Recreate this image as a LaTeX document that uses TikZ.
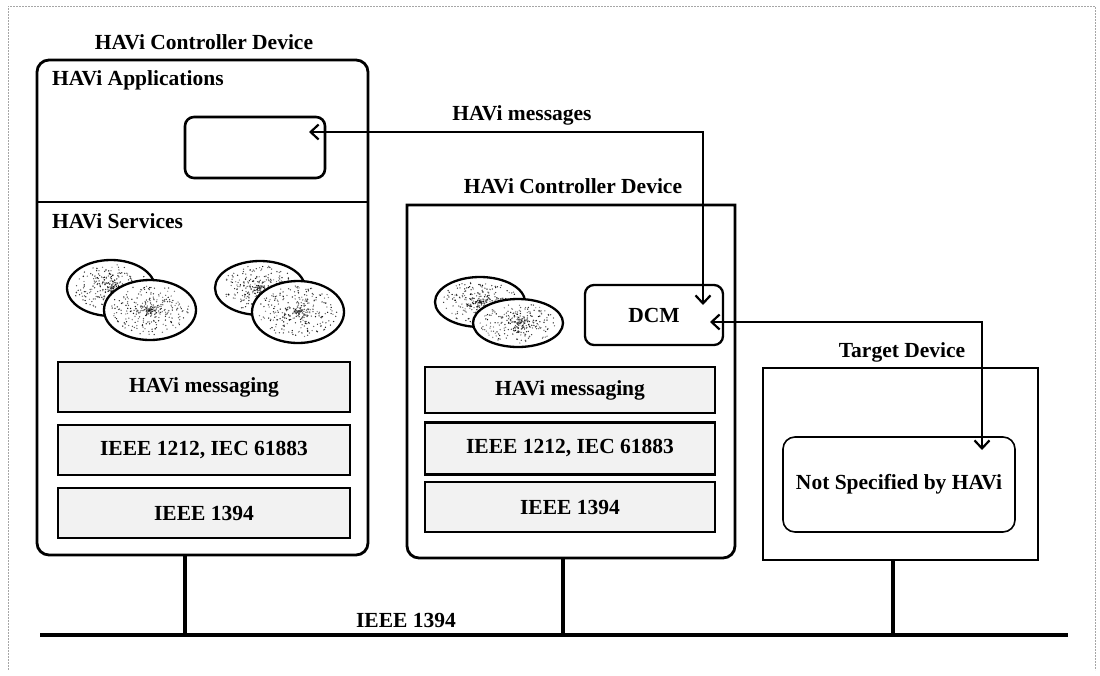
\documentclass[tikz,border=0pt]{standalone}
\usepackage{fontspec}
\setmainfont{Liberation Serif}
\usetikzlibrary{arrows.meta,shapes.geometric}

% random speckles inside an ellipse: centre x, centre y, x radius, y radius, count
\newcommand\specklecloud[5]{%
  \begin{scope}
    \clip (#1,#2) ellipse [x radius=#3pt, y radius=#4pt];
    \foreach \k in {1,...,#5}{%
      \pgfmathsetmacro\rr{rnd*0.85}%
      \pgfmathsetmacro\aa{360*rnd}%
      \pgfmathsetmacro\gg{45+55*rnd}%
      \fill[black!\gg] ({#1+#3*\rr*cos(\aa)},{#2+#4*\rr*sin(\aa)}) circle[radius=0.7pt];
    }%
  \end{scope}}

\tikzset{
  lbl/.style={font=\bfseries\fontsize{21.5}{25}\selectfont, inner sep=0pt},
  devbox/.style={draw, line width=2.8pt, inner sep=0pt, outer sep=0pt},
  layer/.style={draw, line width=2.8pt, fill=black!5, inner sep=0pt, outer sep=0pt,
                minimum height=50pt, lbl},
  appbox/.style={draw, line width=2.6pt, rounded corners=9pt, inner sep=0pt, outer sep=0pt},
  blob/.style={draw, line width=2.3pt, fill=white, ellipse, inner sep=0pt},
  msg/.style={line width=2.2pt, {Straight Barb[length=8pt,width=15pt]}-{Straight Barb[length=8pt,width=15pt]}},
  wire/.style={line width=3.2pt},
}

\begin{document}
\begin{tikzpicture}[x=1pt,y=-1pt]
\useasboundingbox (0,0) rectangle (1100,675);
\pgfmathsetseed{4711}

% faint page frame
\draw[black!35, line width=0.8pt, dash pattern=on 2pt off 1pt] (8,670) -- (8,6) -- (1095,6) -- (1095,670);

% ---------------- left controller device ----------------
\node[lbl] (t1) at (204,42) {HAVi Controller Device};
\node[devbox, rounded corners=12pt, minimum width=331pt, minimum height=495pt] (dev1) at (202.5,307.5) {};
\draw[line width=2.8pt] (dev1.west |- 0,202) -- (dev1.east |- 0,202);
\node[lbl, anchor=west] (apps) at (52,80) {HAVi Applications};
\node[lbl, anchor=west] (svcs) at (52,221) {HAVi Services};
\node[appbox, minimum width=140pt, minimum height=61pt] (app) at (255,147.5) {};

\node[blob, minimum width=88pt, minimum height=56pt] (s1) at (111,288) {};
\specklecloud{111}{288}{44}{28}{300}
\node[blob, minimum width=92pt, minimum height=60pt] (s2) at (150,310) {};
\specklecloud{150}{310}{46}{30}{320}
\node[blob, minimum width=90pt, minimum height=54pt] (s3) at (260,288) {};
\specklecloud{260}{288}{45}{27}{300}
\node[blob, minimum width=92pt, minimum height=62pt] (s4) at (298,312) {};
\specklecloud{298}{312}{46}{31}{320}

\node[layer, minimum width=292pt] (m1) at (204,387) {HAVi messaging};
\node[layer, minimum width=292pt] (r1) at (204,450) {IEEE 1212, IEC 61883};
\node[layer, minimum width=292pt] (p1) at (204,513) {IEEE 1394};

% ---------------- middle controller device ----------------
\node[lbl] (t2) at (573,186) {HAVi Controller Device};
\node[inner sep=0pt, outer sep=0pt, minimum width=328pt, minimum height=353pt] (dev2) at (571,381.5) {};
\draw[line width=2.8pt] (dev2.north) -- (dev2.north west)
  [rounded corners=12pt] -- (dev2.south west) -- (dev2.south east)
  [sharp corners] -- (dev2.north east) -- cycle;

\node[blob, minimum width=90pt, minimum height=50pt] (s5) at (480,302) {};
\specklecloud{480}{302}{45}{25}{280}
\node[blob, minimum width=90pt, minimum height=48pt] (s6) at (518,323) {};
\specklecloud{518}{323}{45}{24}{280}
\node[appbox, line width=2.3pt, minimum width=138pt, minimum height=60pt, lbl] (dcm) at (654,315) {DCM};

\node[layer, minimum width=290pt, minimum height=46pt] (m2) at (570,390) {HAVi messaging};
\node[layer, minimum width=290pt, minimum height=52pt] (r2) at (570,448.5) {IEEE 1212, IEC 61883};
\node[layer, minimum width=290pt] (p2) at (570,507) {IEEE 1394};

% ---------------- target device ----------------
\node[lbl] (t3) at (902,352) {Target Device};
\node[devbox, minimum width=275pt, minimum height=192pt] (dev3) at (900.5,464) {};
\node[appbox, line width=1.6pt, rounded corners=12pt, minimum width=232pt, minimum height=95pt, lbl] (nsp) at (899,484.5) {Not Specified by HAVi};

% ---------------- HAVi message paths ----------------
\coordinate (appin) at (309,132);
\coordinate (dcmtop) at (703,305);
\coordinate (dcmin) at (710,322);
\coordinate (nspin) at (982,450);
\node[lbl, anchor=south] (msgs) at (522,125) {HAVi messages};
\draw[msg] (appin) -| (dcmtop);
\draw[msg] (dcmin) -| (nspin);

% ---------------- IEEE 1394 bus ----------------
\coordinate (busL) at (40,635);
\coordinate (busR) at (1068,635);
\draw[line width=3.8pt] (busL) -- (busR);
\node[lbl, anchor=south] (bus) at (406,628) {IEEE 1394};
\coordinate (tap1) at (185,635);
\coordinate (tap2) at (563,635);
\coordinate (tap3) at (893,635);
\draw[wire] (tap1 |- dev1.south) -- (tap1);
\draw[wire] (tap2 |- dev2.south) -- (tap2);
\draw[wire] (tap3 |- dev3.south) -- (tap3);
\end{tikzpicture}
\end{document}
